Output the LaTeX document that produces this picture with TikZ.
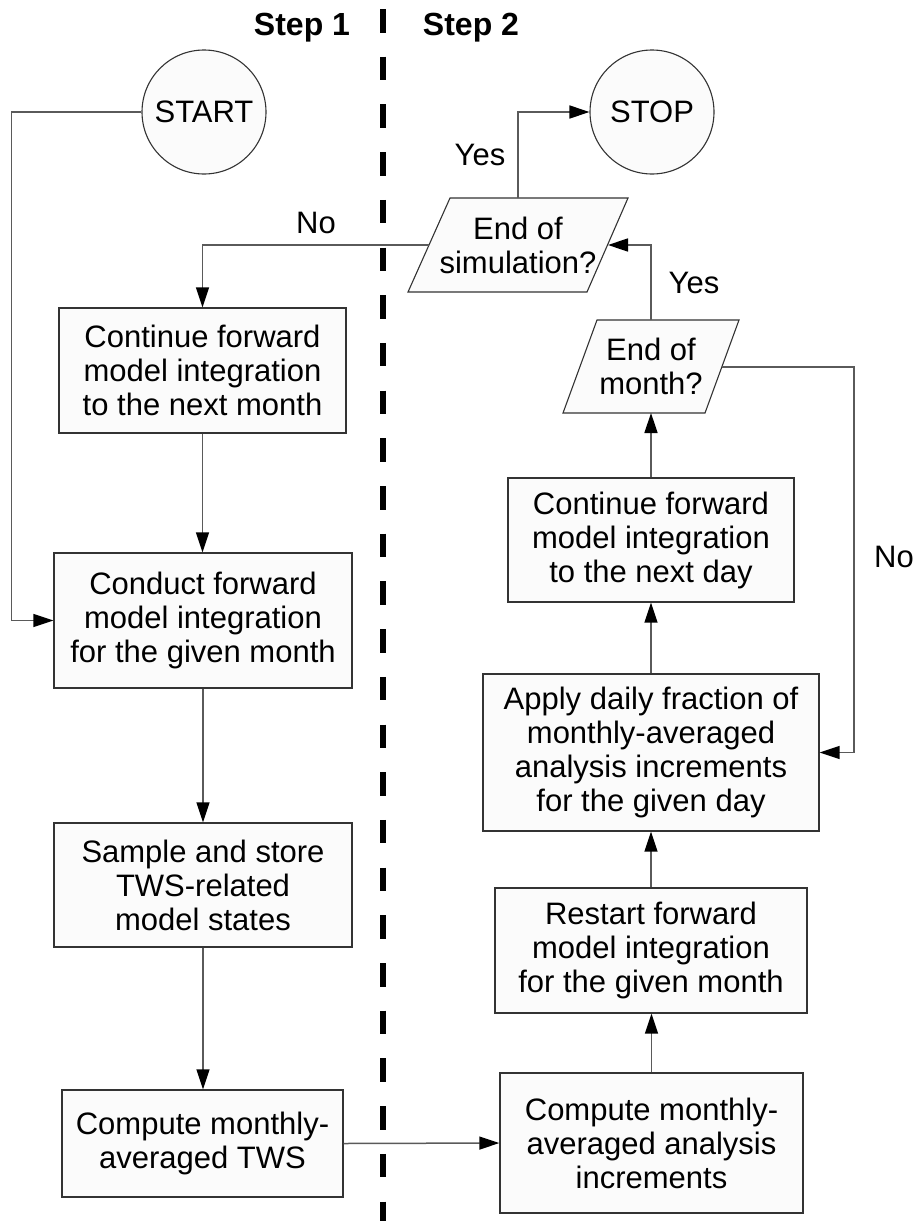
\documentclass[tikz,border=0pt]{standalone}
\usepackage{fontspec}
\setmainfont{Liberation Sans}
\usetikzlibrary{arrows.meta}
\definecolor{lineg}{HTML}{5A5A5A}
\definecolor{boxfill}{HTML}{FBFBFB}
\definecolor{boxdraw}{HTML}{333333}
\begin{document}
\begin{tikzpicture}[x=1pt,y=-1pt,
  txt/.style={font=\fontsize{31}{34}\selectfont},
  box/.style={txt,draw=boxdraw,fill=boxfill,line width=1.3pt,align=center,inner sep=0pt},
  circ/.style={txt,circle,draw=boxdraw,fill=boxfill,line width=1.1pt,minimum size=124pt,inner sep=0pt},
  para/.style={draw=boxdraw,fill=boxfill,line width=1.1pt},
  conn/.style={draw=lineg,line width=1.5pt,-{Triangle[length=20pt,width=13pt,color=black]}},
  hdr/.style={font=\bfseries\fontsize{32}{34}\selectfont}]
\useasboundingbox (0,0) rectangle (915,1221);
% divider
\draw[line width=6pt, dash pattern=on 23.5pt off 24.2pt] (383,9) -- (383,1221);
\node[hdr,anchor=base] (h1) at (302,35) {Step 1};
\node[hdr,anchor=base] (h2) at (471,35) {Step 2};
% circles
\node[circ] (start) at (204,112) {START};
\node[circ] (stop) at (652,112) {STOP};
% left column
\node[box,minimum width=287pt,minimum height=125pt] (contm) at (202.5,370.5) {Continue forward\\model integration\\to the next month};
\node[box,minimum width=298pt,minimum height=135pt] (conduct) at (203,620.5) {Conduct forward\\model integration\\for the given month};
\node[box,minimum width=298pt,minimum height=124pt] (sample) at (203,885) {Sample and store\\TWS-related\\model states};
\node[box,minimum width=281pt,minimum height=107pt] (tws) at (202.5,1143.5) {Compute monthly-\\averaged TWS};
% right column
\node[box,minimum width=303pt,minimum height=140pt] (anal) at (651.5,1143) {Compute monthly-\\averaged analysis\\increments};
\node[box,minimum width=312pt,minimum height=125pt] (restart) at (651,950.5) {Restart forward\\model integration\\for the given month};
\node[box,minimum width=336pt,minimum height=157pt] (apply) at (651,752.5) {Apply daily fraction of\\monthly-averaged\\analysis increments\\for the given day};
\node[box,minimum width=286pt,minimum height=124pt] (contd) at (651,540) {Continue forward\\model integration\\to the next day};
% decision parallelograms
\coordinate (simT) at (518,198);
\coordinate (simL) at (429,245);
\coordinate (simR) at (608,245);
\draw[para] (450,198) -- (628,198) -- (587,292) -- (408,292) -- cycle;
\node[txt,align=center] (sim) at (518,245) {End of\\simulation?};
\coordinate (monT) at (651,320);
\coordinate (monB) at (651,413);
\coordinate (monR) at (722,367);
\draw[para] (597,320) -- (739,320) -- (705,413) -- (563,413) -- cycle;
\node[txt,align=center] (mon) at (651,366) {End of\\month?};
% connectors
\draw[conn] (start.west) -- ++(-130,0) |- (conduct.west);
\draw[conn] (contm.south) -- (contm.south |- conduct.north);
\draw[conn] (conduct.south) -- (conduct.south |- sample.north);
\draw[conn] (sample.south) -- (sample.south |- tws.north);
\draw[conn] (tws.east) -- (anal.west);
\draw[conn] (anal.north) -- (anal.north |- restart.south);
\draw[conn] (restart.north) -- (restart.north |- apply.south);
\draw[conn] (apply.north) -- (apply.north |- contd.south);
\draw[conn] (contd.north) -- (monB);
\draw[conn] (monT) -- (monT |- simR) -- (simR);
\draw[conn] (monR) -- (854,367) |- (apply.east);
\draw[conn] (simT) |- (stop.west);
\draw[conn] (simL) -- (simL -| contm.north) -- (contm.north);
% labels
\node[txt,anchor=base] (yes1) at (480,165) {Yes};
\node[txt,anchor=base] (no1) at (316,233) {No};
\node[txt,anchor=base] (yes2) at (694,293) {Yes};
\node[txt,anchor=base] (no2) at (894,567) {No};
\end{tikzpicture}
\end{document}
